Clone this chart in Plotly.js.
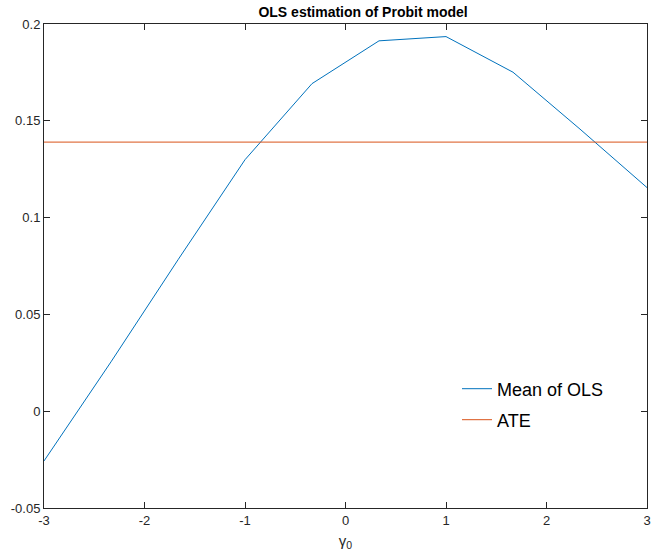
<!DOCTYPE html>
<html>
<head>
<meta charset="utf-8">
<script src="https://cdn.plot.ly/plotly-3.0.1.min.js"></script>
<style>html,body{margin:0;padding:0;background:#fff;}#chart{width:653px;height:554px;}</style>
</head>
<body>
<div id="chart"></div>
<script>
const gamma0 = [-3, -2.3333, -1.6667, -1, -0.3333, 0.3333, 1, 1.6667, 2.3333, 3];
const meanOLS = [-0.0257, 0.0255, 0.0782, 0.1299, 0.1692, 0.1913, 0.1935, 0.1751, 0.1457, 0.1155];
const ateValue = 0.139;
const ate = gamma0.map(() => ateValue);
const xTicks = [-3, -2, -1, 0, 1, 2, 3];
const xTickText = ['-3', '-2', '-1', '0', '1', '2', '3'];
const yTicks = [-0.05, 0, 0.05, 0.1, 0.15, 0.2];
const yTickText = ['-0.05', '0', '0.05', '0.1', '0.15', '0.2'];

const axisColor = '#262626';
const font = 'Liberation Sans, Arial, Helvetica, sans-serif';

const traces = [
  {x: gamma0, y: meanOLS, type: 'scatter', mode: 'lines', name: 'Mean of OLS',
   line: {color: '#0072BD', width: 1}, legend: 'legend'},
  {x: gamma0, y: ate, type: 'scatter', mode: 'lines', name: 'ATE',
   line: {color: '#D95319', width: 1}, legend: 'legend2'}
];

const L = 44, R = 6, T = 24, B = 46, W = 653, H = 554;
const pw = W - L - R, ph = H - T - B;
const legFont = {family: font, size: 18, color: '#000'};

const layout = {
  width: W, height: H,
  margin: {l: L, r: R, t: T, b: B, pad: 0},
  paper_bgcolor: '#fff', plot_bgcolor: '#fff',
  font: {family: font, color: axisColor, size: 13},
  title: {text: '<b>OLS estimation of Probit model</b>', font: {family: font, size: 14, color: '#000'},
          x: (L + pw / 2) / W, xref: 'paper', xanchor: 'center',
          y: 1 - 12 / H, yref: 'container', yanchor: 'middle'},
  xaxis: {range: [-3, 3], tickvals: xTicks, ticktext: xTickText, ticks: 'inside', ticklen: 6,
          tickcolor: axisColor, showline: true, linecolor: axisColor, linewidth: 1, mirror: 'ticks',
          showgrid: false, zeroline: false, tickfont: {size: 13, color: axisColor},
          title: {text: 'γ<sub>0</sub>', font: {size: 15, color: axisColor}, standoff: 8}},
  yaxis: {range: [-0.05, 0.2], tickvals: yTicks, ticktext: yTickText, ticks: 'inside', ticklen: 6,
          tickcolor: axisColor, showline: true, linecolor: axisColor, linewidth: 1, mirror: 'ticks',
          showgrid: false, zeroline: false, tickfont: {size: 13, color: axisColor}},
  showlegend: true,
  legend: {x: (457 - L) / pw, xanchor: 'left', y: (H - B - 389) / ph, yanchor: 'middle',
           bgcolor: 'rgba(0,0,0,0)', borderwidth: 0, font: legFont},
  legend2: {x: (457 - L) / pw, xanchor: 'left', y: (H - B - 420) / ph, yanchor: 'middle',
           bgcolor: 'rgba(0,0,0,0)', borderwidth: 0, font: legFont}
};

Plotly.newPlot('chart', traces, layout, {displayModeBar: false, staticPlot: true});
</script>
</body>
</html>
